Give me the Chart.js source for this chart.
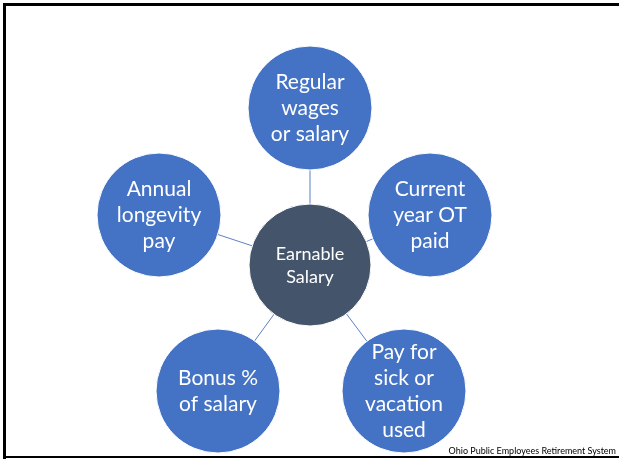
<!DOCTYPE html>
<html>
<head>
<meta charset="utf-8">
<script src="https://cdn.jsdelivr.net/npm/chart.js@4/dist/chart.umd.min.js"></script>
<style>
  html, body { margin: 0; padding: 0; background: #fff; }
  #wrap { width: 619px; height: 466px; }
</style>
</head>
<body>
<div id="wrap"><canvas id="diagram" width="619" height="466"></canvas></div>
<script>
// Hub-and-spoke layout, values in page units (x right, y down)
const hubLabel = ["Earnable", "Salary"];
const hubX = 310;
const hubY = 265;

const spokeLabels = [
  ["Regular", "wages", "or salary"],
  ["Current", "year OT", "paid"],
  ["Pay for", "sick or", "vacation", "used"],
  ["Bonus %", "of salary"],
  ["Annual", "longevity", "pay"],
];
const spokeX = [310, 430, 404, 218, 159];
const spokeY = [108, 215, 391, 391, 215];

const footerText = "Ohio Public Employees Retirement System";

const BLUE = "#4472C4";
const SLATE = "#44546A";
const FONT = "Lato, 'Open Sans', sans-serif";

// one small line dataset per spoke, drawn under the circles
const spokeSets = spokeX.map((x, i) => ({
  type: "line",
  data: [{ x: hubX, y: hubY }, { x: x, y: spokeY[i] }],
  borderColor: "#5B7FC7",
  borderWidth: 1,
  pointRadius: 0,
  order: 3,
}));

const labelPlugin = {
  id: "labels",
  beforeDraw(chart) {
    const ctx = chart.ctx;
    ctx.save();
    ctx.fillStyle = "#000";
    ctx.fillRect(3, 3, 616, 3);
    ctx.fillRect(3, 3, 3, 456);
    ctx.fillRect(3, 456, 616, 2);
    ctx.restore();
  },
  afterDatasetsDraw(chart) {
    const ctx = chart.ctx;
    ctx.save();
    ctx.fillStyle = "#fff";
    ctx.textAlign = "center";
    ctx.textBaseline = "middle";

    const nodes = chart.getDatasetMeta(0).data;
    nodes.forEach((pt, i) => {
      const lines = spokeLabels[i];
      ctx.font = "21px " + FONT;
      const lh = 26;
      const top = pt.y - (lines.length - 1) * lh / 2;
      lines.forEach((t, j) => ctx.fillText(t, pt.x, top + j * lh));
    });

    const hub = chart.getDatasetMeta(1).data[0];
    ctx.font = "18px " + FONT;
    hubLabel.forEach((t, j) => ctx.fillText(t, hub.x, hub.y - 11 + j * 23));

    ctx.fillStyle = "#000";
    ctx.font = "9px " + FONT;
    ctx.textAlign = "right";
    ctx.fillText(footerText, 616, 451);
    ctx.restore();
  },
};

new Chart(document.getElementById("diagram"), {
  type: "scatter",
  data: {
    datasets: [
      {
        data: spokeX.map((x, i) => ({ x: x, y: spokeY[i] })),
        backgroundColor: BLUE,
        borderColor: "#fff",
        borderWidth: 1,
        pointRadius: 62,
        pointHoverRadius: 62,
        order: 1,
      },
      {
        data: [{ x: hubX, y: hubY }],
        backgroundColor: SLATE,
        borderColor: "#fff",
        borderWidth: 1,
        pointRadius: 61,
        pointHoverRadius: 61,
        order: 2,
      },
      ...spokeSets,
    ],
  },
  options: {
    responsive: false,
    animation: false,
    events: [],
    layout: { padding: 0, autoPadding: false },
    plugins: { legend: { display: false }, tooltip: { enabled: false } },
    scales: {
      x: { type: "linear", min: 0, max: 619, display: false },
      y: { type: "linear", min: 0, max: 466, reverse: true, display: false },
    },
  },
  plugins: [labelPlugin],
});
</script>
</body>
</html>
